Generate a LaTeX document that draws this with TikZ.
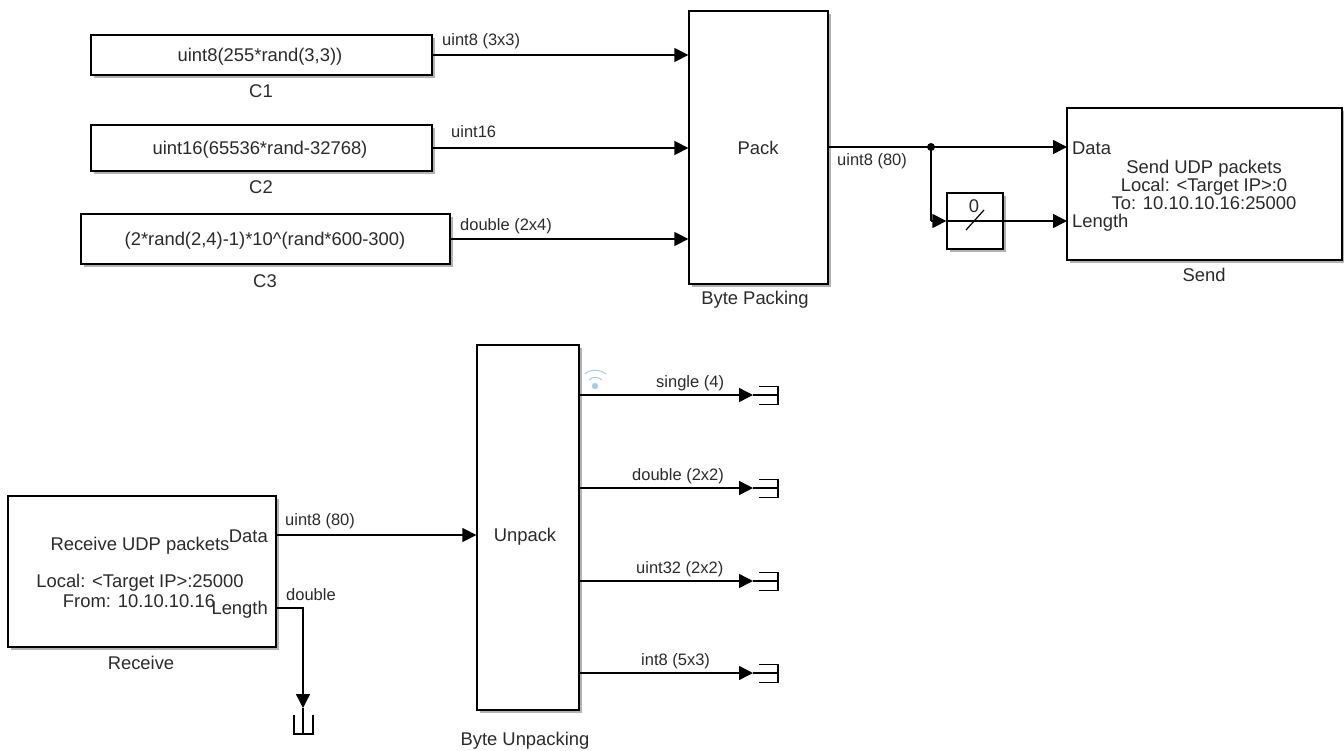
\documentclass[tikz,border=0pt]{standalone}
\usepackage{fontspec}
\setmainfont{Liberation Sans}
\usetikzlibrary{arrows.meta,shadows,calc}
\definecolor{txt}{HTML}{2A2A2A}
\tikzset{
  x=1pt,y=-1pt,
  block/.style={draw=black,line width=1.3pt,fill=white,inner sep=0pt,align=center,text=txt,font=\fontsize{18.4}{18}\selectfont,
    drop shadow={shadow xshift=2.5pt,shadow yshift=-2.5pt,fill=black,opacity=.3}},
  lbl/.style={text=txt,font=\fontsize{18.4}{18}\selectfont,inner sep=0pt},
  sig/.style={text=txt,font=\fontsize{16.5}{18}\selectfont,inner sep=0pt},
  wire/.style={draw=black,line width=1.4pt,-{Triangle[length=14pt,width=14pt]}},
  plainwire/.style={draw=black,line width=1.4pt},
  term/.style={draw=black,line width=1.2pt},
}
\newcommand{\mkblock}[6]{\node[block,minimum width=#4-#2,minimum height=#5-#3] (#1) at ({(#2+#4)/2},{(#3+#5)/2}) {#6};}
\begin{document}
\begin{tikzpicture}
\useasboundingbox (0,0) rectangle (1344,750);
\mkblock{c1}{91}{35}{432}{75}{}
\mkblock{c2}{91}{125}{432}{171}{}
\mkblock{c3}{81}{214}{450}{264}{}
\mkblock{pack}{689}{11}{828}{284}{}
\mkblock{send}{1067}{108}{1342}{260}{}
\mkblock{sw}{947}{193}{1003}{249}{}
\mkblock{recv}{8}{496}{276}{647}{}
\mkblock{unpack}{477}{345}{579}{710}{}

\node[lbl] (c1t) at (260,57) {uint8(255*rand(3,3))};
\node[lbl] (c2t) at (260,150) {uint16(65536*rand-32768)};
\node[lbl] (c3t) at (265,241) {(2*rand(2,4)-1)*10\textasciicircum(rand*600-300)};
\node[lbl] (packt) at (758,148) {Pack};
\node[lbl] (unpackt) at (525,537) {Unpack};

\node[lbl] (c1l) at (261,91) {C1};
\node[lbl] (c2l) at (261,187) {C2};
\node[lbl] (c3l) at (265,281) {C3};
\node[lbl] (packl) at (755,300) {Byte Packing};
\node[lbl] (sendl) at (1204,275) {Send};
\node[lbl] (recvl) at (141,663) {Receive};
\node[lbl] (unpackl) at (525,741) {Byte Unpacking};

\node[lbl,align=center] (sendt) at (1204,185) {Send UDP packets\\Local: <Target IP>:0\\To: 10.10.10.16:25000};
\node[lbl,anchor=west] (sdata) at (1072,148) {Data};
\node[lbl,anchor=west] (slen) at (1072,223) {Length};
\node[lbl] (recv1) at (140,546) {Receive UDP packets};
\node[lbl] (recv2) at (140,583) {Local: <Target IP>:25000};
\node[lbl] (recv3) at (139,601) {From: 10.10.10.16};
\node[lbl,anchor=east] (rdata) at (268,536) {Data};
\node[lbl,anchor=east] (rlen) at (268,610) {Length};

% source wires
\draw[wire] (c1.east) -- (pack.west |- c1.east);
\draw[wire] (c2.east) -- (pack.west |- c2.east);
\draw[wire] (c3.east) -- (pack.west |- c3.east);
\node[sig,anchor=west] (s1) at (442,41) {uint8 (3x3)};
\node[sig,anchor=west] (s2) at (451,132) {uint16};
\node[sig,anchor=west] (s3) at (460,226) {double (2x4)};
\node[sig,anchor=west] (s4) at (837,161) {uint8 (80)};

% pack output
\coordinate (branch) at (931,147);
\coordinate (sdatain) at (1067,147);
\coordinate (slenin) at (1067,221);
\coordinate (bend) at (931,221);
\draw[wire] (pack.east |- branch) -- (sdatain);
\fill[black] (branch) circle (4);
\draw[plainwire] (branch) -- (bend);
\draw[wire] (bend) -- (sw.west |- bend);
\draw[plainwire] (sw.west |- bend) -- (sw.east |- bend);
\draw[wire] (sw.east |- bend) -- (slenin);
\draw[draw=black,line width=1.2pt] (966,230) -- (984,210);
\node[lbl] (swt) at (974,206) {0};

% receive
\coordinate (rdataout) at (276,535);
\coordinate (rlenout) at (276,608);
\coordinate (rbend) at (303,608);
\coordinate (rtip) at (303,708);
\draw[wire] (rdataout) -- (unpack.west |- rdataout);
\draw[wire] (rlenout) -- (rbend) -- (rtip);
\node[sig,anchor=west] (s5) at (285,521) {uint8 (80)};
\node[sig,anchor=west] (s6) at (286,595) {double};
\draw[term] (294,715) -- (294,734) -- (313,734) -- (313,715);
\draw[term] (303,708) -- (303,734);

% unpack outputs
\foreach \n/\y/\t/\xx in {a/395/single (4)/656, b/488/double (2x2)/632, c/581/uint32 (2x2)/636, d/673/int8 (5x3)/641}{
  \coordinate (o\n) at (579,\y);
  \coordinate (e\n) at (753,\y);
  \draw[wire] (o\n) -- (e\n);
  \draw[term] (759,\y-8.5) -- (778,\y-8.5) -- (778,\y+9.5) -- (759,\y+9.5);
  \draw[term] (753,\y) -- (778,\y);
  \node[sig,anchor=west] (l\n) at (\xx,\y-12) {\t};
}

% wireless icon
\definecolor{wifi}{HTML}{A9CBE8}
\fill[wifi] (595,386) circle (3.2);
\draw[wifi,line width=1pt] (589,380) .. controls (592,376.5) and (598,376.5) .. (602,380);
\draw[wifi,line width=1pt] (585,374) .. controls (590,369) and (600,369) .. (606,374);
\end{tikzpicture}
\end{document}
